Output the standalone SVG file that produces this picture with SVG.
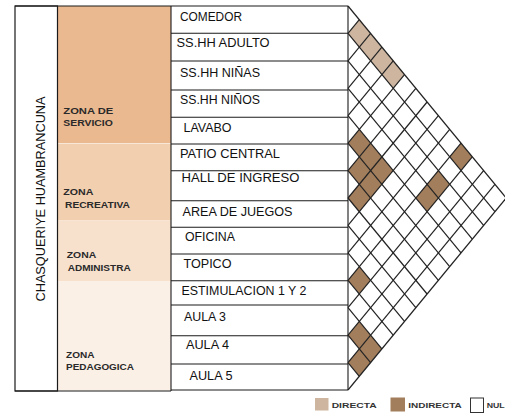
<svg xmlns="http://www.w3.org/2000/svg" width="505" height="415" viewBox="0 0 505 415">
<style>
.bd{fill:none;stroke:#1a1a1a;stroke-width:1.2}
.rl{stroke:#1a1a1a;stroke-width:1.1}
.gl{stroke:#222;stroke-width:1.2;fill:none}
.lbl{font-family:"Liberation Sans",Arial,sans-serif;font-size:12px;fill:#111}
.zn{font-family:"Liberation Sans",Arial,sans-serif;font-size:8.5px;font-weight:bold;fill:#2a2a2a}
.lg{font-family:"Liberation Sans",Arial,sans-serif;font-size:7.5px;font-weight:bold;fill:#333}
.dir{fill:#CDB5A0}
.ind{fill:#A37E5C}
</style>
<rect width="505" height="415" fill="#fff"/>

<g id="zonas">
<rect x="57.5" y="6" width="113.5" height="137" fill="#EBB98F"/>
<rect x="57.5" y="143.5" width="113.5" height="77" fill="#F2CFAF"/>
<rect x="57.5" y="220.5" width="113.5" height="61" fill="#F7E1CD"/>
<rect x="57.5" y="281.5" width="113.5" height="109" fill="#FBF0E6"/>
</g>

<g id="titulo">
<rect class="bd" x="15" y="6" width="42.5" height="385"/>
<text class="lbl" transform="translate(45,199) rotate(-90)" text-anchor="middle" font-size="13" textLength="205" lengthAdjust="spacingAndGlyphs">CHASQUERIYE HUAMBRANCUNA</text>
</g>

<g id="zona-servicio"><text class="zn" x="63.3" y="113.5" textLength="50" lengthAdjust="spacingAndGlyphs">ZONA  DE</text><text class="zn" x="63.3" y="125.5" textLength="49.5" lengthAdjust="spacingAndGlyphs">SERVICIO</text></g>
<g id="zona-recreativa"><text class="zn" x="63.3" y="194.5" textLength="30" lengthAdjust="spacingAndGlyphs">ZONA</text><text class="zn" x="65" y="207.5" textLength="65" lengthAdjust="spacingAndGlyphs">RECREATIVA</text></g>
<g id="zona-administra"><text class="zn" x="66.7" y="257.5" textLength="29.5" lengthAdjust="spacingAndGlyphs">ZONA</text><text class="zn" x="67.7" y="271" textLength="63" lengthAdjust="spacingAndGlyphs">ADMINISTRA</text></g>
<g id="zona-pedagogica"><text class="zn" x="66" y="357.5" textLength="28.5" lengthAdjust="spacingAndGlyphs">ZONA</text><text class="zn" x="66" y="370" textLength="68" lengthAdjust="spacingAndGlyphs">PEDAGOGICA</text></g>

<g id="marco">
<line class="rl" x1="15" y1="6" x2="348" y2="6"/>
<line class="rl" x1="15" y1="391" x2="171" y2="391"/>
<line class="rl" x1="171" y1="390" x2="348" y2="390"/>
<line class="rl" x1="171" y1="6" x2="171" y2="391"/>
<line class="rl" x1="348" y1="6" x2="348" y2="390"/>
<line class="rl" x1="171" y1="33.3" x2="348" y2="33.3"/>
<line class="rl" x1="171" y1="61" x2="348" y2="61"/>
<line class="rl" x1="171" y1="90" x2="348" y2="90"/>
<line class="rl" x1="171" y1="117.3" x2="348" y2="117.3"/>
<line class="rl" x1="171" y1="144" x2="348" y2="144"/>
<line class="rl" x1="171" y1="170.7" x2="348" y2="170.7"/>
<line class="rl" x1="171" y1="200.7" x2="348" y2="200.7"/>
<line class="rl" x1="171" y1="227.3" x2="348" y2="227.3"/>
<line class="rl" x1="171" y1="254" x2="348" y2="254"/>
<line class="rl" x1="171" y1="280.7" x2="348" y2="280.7"/>
<line class="rl" x1="171" y1="305" x2="348" y2="305"/>
<line class="rl" x1="171" y1="335.7" x2="348" y2="335.7"/>
<line class="rl" x1="171" y1="364" x2="348" y2="364"/>
</g>

<g id="r-comedor"><text class="lbl" x="180" y="20.5" textLength="62" lengthAdjust="spacingAndGlyphs">COMEDOR</text></g>
<g id="r-sshh-adulto"><text class="lbl" x="176.5" y="47" textLength="93" lengthAdjust="spacingAndGlyphs">SS.HH ADULTO</text></g>
<g id="r-sshh-ninas"><text class="lbl" x="180" y="76.5" textLength="80" lengthAdjust="spacingAndGlyphs">SS.HH NIÑAS</text></g>
<g id="r-sshh-ninos"><text class="lbl" x="180" y="103.5" textLength="80" lengthAdjust="spacingAndGlyphs">SS.HH NIÑOS</text></g>
<g id="r-lavabo"><text class="lbl" x="183.5" y="131.5" textLength="48" lengthAdjust="spacingAndGlyphs">LAVABO</text></g>
<g id="r-patio"><text class="lbl" x="180" y="157.5" textLength="100" lengthAdjust="spacingAndGlyphs">PATIO CENTRAL</text></g>
<g id="r-hall"><text class="lbl" x="181.5" y="181.5" textLength="118" lengthAdjust="spacingAndGlyphs">HALL DE INGRESO</text></g>
<g id="r-area"><text class="lbl" x="182.5" y="215.5" textLength="110" lengthAdjust="spacingAndGlyphs">AREA DE JUEGOS</text></g>
<g id="r-oficina"><text class="lbl" x="185" y="241" textLength="50" lengthAdjust="spacingAndGlyphs">OFICINA</text></g>
<g id="r-topico"><text class="lbl" x="183.5" y="267.5" textLength="48" lengthAdjust="spacingAndGlyphs">TOPICO</text></g>
<g id="r-estimulacion"><text class="lbl" x="181.5" y="294.5" textLength="125" lengthAdjust="spacingAndGlyphs">ESTIMULACION 1 Y 2</text></g>
<g id="r-aula3"><text class="lbl" x="184" y="321" textLength="42" lengthAdjust="spacingAndGlyphs">AULA 3</text></g>
<g id="r-aula4"><text class="lbl" x="186" y="348.5" textLength="43" lengthAdjust="spacingAndGlyphs">AULA 4</text></g>
<g id="r-aula5"><text class="lbl" x="189.5" y="379.5" textLength="43" lengthAdjust="spacingAndGlyphs">AULA 5</text></g>

<g id="celdas">
<polygon class="dir" points="348,33.43 359.3,19.71 370.6,33.43 359.3,47.14"/>
<polygon class="dir" points="359.3,47.14 370.6,33.43 381.9,47.14 370.6,60.86"/>
<polygon class="dir" points="370.6,60.86 381.9,47.14 393.2,60.86 381.9,74.57"/>
<polygon class="dir" points="381.9,74.57 393.2,60.86 404.5,74.57 393.2,88.29"/>
<polygon class="ind" points="348,143.14 359.3,129.43 370.6,143.14 359.3,156.86"/>
<polygon class="ind" points="359.3,156.86 370.6,143.14 381.9,156.86 370.6,170.57"/>
<polygon class="ind" points="348,170.57 359.3,156.86 370.6,170.57 359.3,184.29"/>
<polygon class="ind" points="370.6,170.57 381.9,156.86 393.2,170.57 381.9,184.29"/>
<polygon class="ind" points="359.3,184.29 370.6,170.57 381.9,184.29 370.6,198"/>
<polygon class="ind" points="348,198 359.3,184.29 370.6,198 359.3,211.71"/>
<polygon class="ind" points="449.7,156.86 461,143.14 472.3,156.86 461,170.57"/>
<polygon class="ind" points="427.1,184.29 438.4,170.57 449.7,184.29 438.4,198"/>
<polygon class="ind" points="415.8,198 427.1,184.29 438.4,198 427.1,211.71"/>
<polygon class="ind" points="348,280.29 359.3,266.57 370.6,280.29 359.3,294"/>
<polygon class="ind" points="348,335.14 359.3,321.43 370.6,335.14 359.3,348.86"/>
<polygon class="ind" points="359.3,348.86 370.6,335.14 381.9,348.86 370.6,362.57"/>
<polygon class="ind" points="348,362.57 359.3,348.86 370.6,362.57 359.3,376.29"/>
</g>

<g id="conectores" class="gl">
<line x1="348" y1="6" x2="506.2" y2="198"/>
<line x1="348" y1="33.43" x2="494.9" y2="211.71"/>
<line x1="348" y1="60.86" x2="483.6" y2="225.43"/>
<line x1="348" y1="88.29" x2="472.3" y2="239.14"/>
<line x1="348" y1="115.71" x2="461" y2="252.86"/>
<line x1="348" y1="143.14" x2="449.7" y2="266.57"/>
<line x1="348" y1="170.57" x2="438.4" y2="280.29"/>
<line x1="348" y1="198" x2="427.1" y2="294"/>
<line x1="348" y1="225.43" x2="415.8" y2="307.71"/>
<line x1="348" y1="252.86" x2="404.5" y2="321.43"/>
<line x1="348" y1="280.29" x2="393.2" y2="335.14"/>
<line x1="348" y1="307.71" x2="381.9" y2="348.86"/>
<line x1="348" y1="335.14" x2="370.6" y2="362.57"/>
<line x1="348" y1="362.57" x2="359.3" y2="376.29"/>
<line x1="348" y1="33.43" x2="359.3" y2="19.71"/>
<line x1="348" y1="60.86" x2="370.6" y2="33.43"/>
<line x1="348" y1="88.29" x2="381.9" y2="47.14"/>
<line x1="348" y1="115.71" x2="393.2" y2="60.86"/>
<line x1="348" y1="143.14" x2="404.5" y2="74.57"/>
<line x1="348" y1="170.57" x2="415.8" y2="88.29"/>
<line x1="348" y1="198" x2="427.1" y2="102"/>
<line x1="348" y1="225.43" x2="438.4" y2="115.71"/>
<line x1="348" y1="252.86" x2="449.7" y2="129.43"/>
<line x1="348" y1="280.29" x2="461" y2="143.14"/>
<line x1="348" y1="307.71" x2="472.3" y2="156.86"/>
<line x1="348" y1="335.14" x2="483.6" y2="170.57"/>
<line x1="348" y1="362.57" x2="494.9" y2="184.29"/>
<line x1="348" y1="390" x2="506.2" y2="198"/>
</g>

<g id="leyenda">
<rect x="315" y="398" width="13.5" height="12.5" class="dir"/>
<text class="lg" x="331.7" y="407.5" textLength="45" lengthAdjust="spacingAndGlyphs">DIRECTA</text>
<rect x="390.5" y="397.5" width="14.5" height="14" class="ind"/>
<text class="lg" x="408.3" y="407.5" textLength="53.4" lengthAdjust="spacingAndGlyphs">INDIRECTA</text>
<rect x="470.5" y="398" width="13" height="14.5" fill="#fff" stroke="#333" stroke-width="1"/>
<text class="lg" x="486.7" y="407.5" textLength="18" lengthAdjust="spacingAndGlyphs">NUL</text>
</g>
</svg>
